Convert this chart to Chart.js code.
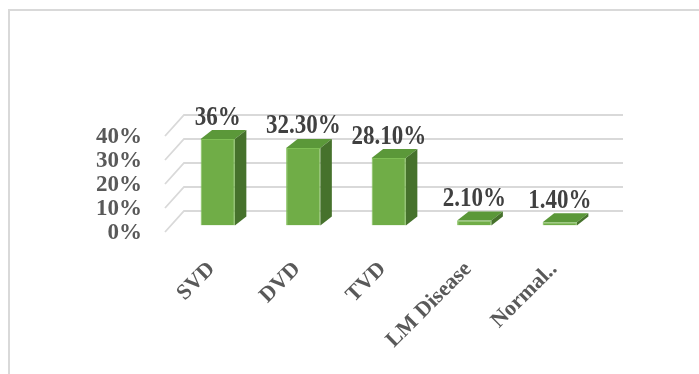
<!DOCTYPE html>
<html>
<head>
<meta charset="utf-8">
<script src="https://cdn.jsdelivr.net/npm/chart.js@4.4.1/dist/chart.umd.min.js"></script>
<style>
  body { margin: 0; background: #fff; }
  #frame { position: absolute; left: 8px; top: 9px; width: 700px; height: 400px;
           border-left: 2px solid #d9d9d9; border-top: 2px solid #d9d9d9; }
  #wrap { position: absolute; left: 0; top: 0; width: 699px; height: 374px; }
</style>
</head>
<body>
<div id="frame"></div>
<div id="wrap"><canvas id="myChart" width="699" height="374"></canvas></div>
<script>
// data
var categories = ['SVD', 'DVD', 'TVD', 'LM Disease', 'Normal..'];
var percentValues = [36, 32.3, 28.1, 2.1, 1.4];
var valueLabels = ['36%', '32.30%', '28.10%', '2.10%', '1.40%'];
var yTicks = [0, 10, 20, 30, 40];

var serif = "'Liberation Serif', 'Times New Roman', serif";
var depth = { dx: 11.5, dy: -9 };

// back wall grid + left wall diagonals, placed from the y scale
var wallPlugin = {
    id: 'wall3d',
    beforeDatasetsDraw: function (chart) {
        var ctx = chart.ctx, area = chart.chartArea, y = chart.scales.y;
        ctx.save();
        ctx.strokeStyle = '#d9d9d9';
        ctx.lineWidth = 1.8;
        yTicks.forEach(function (v) {
            var py = y.getPixelForValue(v);
            ctx.beginPath();
            ctx.moveTo(area.left - 10, py + 6.5);
            ctx.lineTo(area.left + 9, py - 14.5);
            ctx.lineTo(area.right + 20.5, py - 14.5);
            ctx.stroke();
        });
        ctx.restore();
    }
};

// top and side faces of the bars, and the value labels
var barPlugin = {
    id: 'bars3d',
    afterDatasetsDraw: function (chart) {
        var ctx = chart.ctx;
        var meta = chart.getDatasetMeta(0);
        ctx.save();
        meta.data.forEach(function (bar, i) {
            var l = bar.x - bar.width / 2, r = bar.x + bar.width / 2;
            var t = bar.y, b = bar.base;
            ctx.fillStyle = '#5b9839';
            ctx.beginPath();
            ctx.moveTo(l, t);
            ctx.lineTo(r, t);
            ctx.lineTo(r + depth.dx, t + depth.dy);
            ctx.lineTo(l + depth.dx, t + depth.dy);
            ctx.closePath();
            ctx.fill();
            ctx.fillStyle = '#46722c';
            ctx.beginPath();
            ctx.moveTo(r, t);
            ctx.lineTo(r + depth.dx, t + depth.dy);
            ctx.lineTo(r + depth.dx, b + depth.dy);
            ctx.lineTo(r, b);
            ctx.closePath();
            ctx.fill();

            // labels look a bit stretched vertically in the original
            ctx.save();
            ctx.translate(bar.x, t - 14.5);
            ctx.scale(1, 1.15);
            ctx.fillStyle = '#404040';
            ctx.font = 'bold 23px ' + serif;
            ctx.textAlign = 'center';
            ctx.textBaseline = 'alphabetic';
            ctx.fillText(valueLabels[i], 0, 0);
            ctx.restore();
        });
        ctx.restore();
    }
};

var ctx = document.getElementById('myChart');
var myChart = new Chart(ctx, {
    type: 'bar',
    data: {
        labels: categories,
        datasets: [{
            data: percentValues,
            backgroundColor: '#70ad47',
            borderColor: '#7fbf55',
            borderWidth: 1,
            barPercentage: 0.4,
            categoryPercentage: 1
        }]
    },
    options: {
        responsive: false,
        animation: false,
        devicePixelRatio: 1,
        layout: { padding: { left: 96, right: 96.5, top: 129.5, bottom: 0 } },
        plugins: { legend: { display: false }, tooltip: { enabled: false } },
        scales: {
            x: {
                grid: { display: false, drawTicks: false },
                border: { display: false },
                ticks: {
                    color: '#595959',
                    font: { family: serif, size: 22, weight: 'bold' },
                    minRotation: 45,
                    maxRotation: 45,
                    padding: 31,
                    labelOffset: -6
                },
                afterFit: function (s) { s.height = 148.5; }
            },
            y: {
                min: 0,
                max: 40,
                grid: { display: false, drawTicks: false },
                border: { display: false },
                ticks: {
                    stepSize: 10,
                    autoSkip: false,
                    color: '#595959',
                    font: { family: serif, size: 23, weight: 'bold' },
                    padding: 33,
                    labelOffset: 7.5,
                    callback: function (v) { return v + '%'; }
                },
                afterFit: function (s) { s.width = 79; }
            }
        }
    },
    plugins: [wallPlugin, barPlugin]
});
</script>
</body>
</html>
